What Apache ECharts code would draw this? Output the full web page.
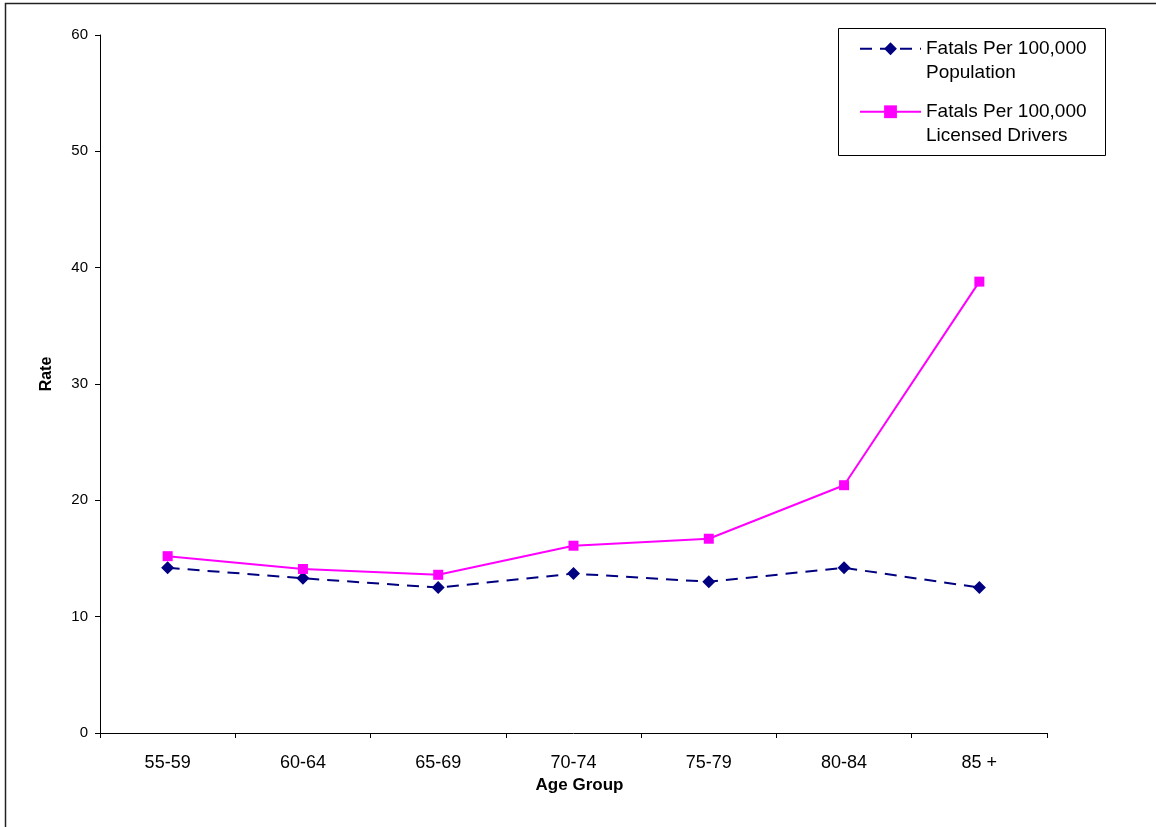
<!DOCTYPE html>
<html>
<head>
<meta charset="utf-8">
<script src="https://cdn.jsdelivr.net/npm/echarts@6/dist/echarts.min.js"></script>
<style>
html,body{margin:0;padding:0;background:#fff;}
#c{width:1156px;height:827px;}
</style>
</head>
<body>
<div id="c"></div>
<script>
var categories = ['55-59','60-64','65-69','70-74','75-79','80-84','85 +'];
var populationRate = [14.2, 13.3, 12.5, 13.7, 13.0, 14.2, 12.5];
var licensedRate = [15.2, 14.1, 13.6, 16.1, 16.7, 21.3, 38.8];
var seriesNames = ['Fatals Per 100,000\nPopulation', 'Fatals Per 100,000\nLicensed Drivers'];
var yTicks = {min: 0, max: 60, interval: 10};

var chart = echarts.init(document.getElementById('c'), null, {renderer: 'canvas'});
var font = 'Liberation Sans, Arial, sans-serif';
chart.setOption({
  animation: false,
  backgroundColor: '#fff',
  textStyle: {fontFamily: font},
  grid: {left: 100, right: 109, top: 35, bottom: 94, containLabel: false},
  graphic: [
    {type: 'polyline', shape: {points: [[5.5, 827], [5.5, 3.5], [1156, 3.5]]}, style: {stroke: '#222', lineWidth: 1.5, fill: null}, silent: true},
    {type: 'rect', shape: {x: 838.5, y: 28.5, width: 267, height: 127}, style: {stroke: '#000', lineWidth: 1, fill: '#fff'}, silent: true, z: 0}
  ],
  legend: {
    left: 859, top: 12,
    orient: 'vertical',
    padding: 0,
    itemGap: -10.5,
    itemWidth: 61,
    itemHeight: 16,
    formatter: function (name) { return ' \n' + name; },
    textStyle: {fontFamily: font, fontSize: 19, color: '#000', lineHeight: 24.5},
    data: seriesNames
  },
  xAxis: {
    type: 'category',
    data: categories,
    boundaryGap: true,
    name: 'Age Group',
    nameLocation: 'middle',
    nameGap: 38,
    nameTextStyle: {fontFamily: font, fontSize: 17, fontWeight: 'bold', color: '#000', padding: [0, 0, 0, 12]},
    axisLine: {lineStyle: {color: '#000', width: 1}},
    axisTick: {show: true, alignWithLabel: false, length: 5, lineStyle: {color: '#000'}},
    axisLabel: {fontFamily: font, fontSize: 18, color: '#000', margin: 21},
    splitLine: {show: false}
  },
  yAxis: {
    type: 'value',
    min: yTicks.min, max: yTicks.max, interval: yTicks.interval,
    name: 'Rate',
    nameLocation: 'middle',
    nameGap: 45,
    nameRotate: 90,
    nameTextStyle: {fontFamily: font, fontSize: 16, fontWeight: 'bold', color: '#000', padding: [0, 0, 0, 20]},
    axisLine: {show: true, lineStyle: {color: '#000', width: 1}},
    axisTick: {show: true, length: 5, lineStyle: {color: '#000'}},
    axisLabel: {fontFamily: font, fontSize: 15, color: '#000', margin: 12},
    splitLine: {show: false}
  },
  series: [
    {
      name: seriesNames[0],
      type: 'line',
      data: populationRate,
      symbol: 'diamond',
      symbolSize: 13,
      itemStyle: {color: '#000080'},
      lineStyle: {color: '#000080', width: 2, type: [12, 8]}
    },
    {
      name: seriesNames[1],
      type: 'line',
      data: licensedRate,
      symbol: 'rect',
      symbolSize: 10,
      itemStyle: {color: '#FF00FF'},
      lineStyle: {color: '#FF00FF', width: 2, type: 'solid'}
    }
  ]
});
</script>
</body>
</html>
